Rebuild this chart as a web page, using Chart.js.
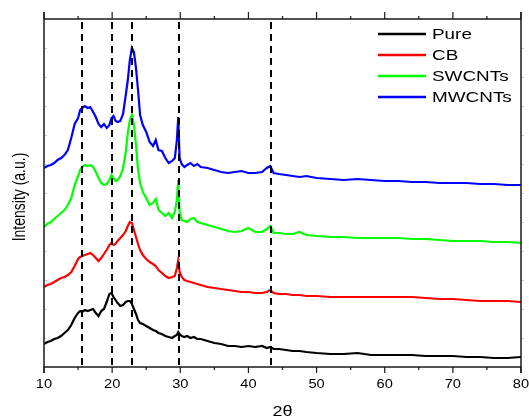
<!DOCTYPE html>
<html>
<head>
<meta charset="utf-8">
<script src="https://cdn.jsdelivr.net/npm/chart.js@4.4.0/dist/chart.umd.min.js"></script>
<style>
html,body{margin:0;padding:0;background:#fff;}
canvas{display:block;}
</style>
</head>
<body>
<canvas id="c" width="529" height="419"></canvas>
<script>
// 2-theta sampling positions
const twoTheta = [10,10.5,11,11.5,12,12.5,13,13.5,14,14.5,15,15.3,15.6,16,16.4,16.8,17.2,17.6,18,18.4,18.8,19.2,19.6,19.9,20.2,20.5,20.8,21.2,21.6,22,22.3,22.6,22.9,23.2,23.5,23.8,24.1,24.5,25,25.5,26,26.4,26.8,27.3,27.8,28.3,28.8,29.2,29.5,29.7,29.9,30.2,30.6,31,31.5,32,32.5,33,34,35,36,37,38,39,40,41,42,42.7,43.2,43.7,44.5,45.5,46.5,47.5,48.5,50,52,54,56,58,60,62,64,66,68,70,72,74,76,78,80];

// intensities (arbitrary units, stacked offsets as in the figure)
const pure = [23,25,26,28,29,31,34,37,42,49,54,56,55,57,56,57,58,54,51,56,58,65,73,74,70,67,64,61,62,65,66,66,63,58,53,47,44,43,41,39,37,36,34,33,31,30,29,31,32,35,33,31,30,31,29,30,28,28,26,24,23,21,21,20,21,20,21,19,20,18,18,17,16,16,15,14,13,13,14,12,12,12,12,11,11,11,10,10,9,9,10];
const cb = [80,82,83,85,87,89,90,92,95,101,108,110,111,112,113,114,112,109,106,109,113,117,122,124,122,123,126,129,132,136,141,145,144,137,130,123,117,112,108,105,103,101,97,94,91,89,90,91,99,107,95,90,87,86,85,84,83,82,80,79,78,77,76,75,75,74,74,75,77,74,73,73,72,72,71,71,70,70,70,70,70,70,70,69,68,68,67,66,66,66,65];
const swcnts = [140,143,145,148,151,154,157,162,169,182,191,197,200,202,201,202,200,195,189,184,182,183,187,192,189,186,187,191,199,215,234,247,252,242,222,197,184,175,169,162,164,168,157,154,151,154,149,155,167,187,155,147,146,145,148,149,145,144,142,140,138,136,135,136,139,135,135,138,141,134,134,133,133,135,132,131,130,130,129,129,129,129,128,128,127,126,126,126,125,125,124];
const mwcnts = [199,201,202,204,207,209,212,217,229,243,249,257,259,261,259,260,255,250,243,240,243,239,242,249,251,246,245,246,253,272,287,307,319,315,299,277,252,242,235,225,221,227,217,216,209,204,206,209,227,250,209,203,200,202,204,201,203,200,199,197,195,194,195,196,194,194,195,199,201,194,193,192,191,190,191,189,188,187,188,187,186,186,185,185,184,184,184,183,183,182,182];

const seriesNames = ['Pure','CB','SWCNTs','MWCNTs'];
const seriesColors = ['#000000','#ff0000','#00ff00','#0000ff'];
const seriesValues = [pure, cb, swcnts, mwcnts];

// reference positions (dashed markers)
const refLines = [15.6, 20.0, 22.9, 29.85, 43.25];

const xMajorTicks = [10,20,30,40,50,60,70,80];
const xMinorTicks = [15,25,35,45,55,65,75];
const yTickStep = 29;

const FONT = "'Liberation Sans', Arial, sans-serif";

function stretchedText(ctx, text, x, y, sx, align){
  ctx.save();
  ctx.translate(x, y);
  ctx.scale(sx, 1);
  ctx.textAlign = align;
  ctx.fillText(text, 0, 0);
  ctx.restore();
}

const decor = {
  id:'decor',
  afterDatasetsDraw(chart){
    const ctx = chart.ctx;
    const a = chart.chartArea;
    const xs = chart.scales.x, ys = chart.scales.y;
    ctx.save();
    // dashed reference lines
    ctx.strokeStyle = '#000';
    ctx.lineWidth = 2;
    ctx.setLineDash([7,5]);
    refLines.forEach(v=>{
      const px = Math.round(xs.getPixelForValue(v));
      ctx.beginPath();
      ctx.moveTo(px, a.top+3);
      ctx.lineTo(px, a.bottom);
      ctx.stroke();
    });
    ctx.setLineDash([]);
    // frame
    ctx.strokeStyle = '#1a1a1a';
    ctx.lineWidth = 1.5;
    ctx.beginPath();
    ctx.moveTo(a.left, a.top-7); ctx.lineTo(a.left, a.bottom+6);
    ctx.moveTo(a.right, a.top-7); ctx.lineTo(a.right, a.bottom+6);
    ctx.moveTo(a.left, a.top); ctx.lineTo(a.right, a.top);
    ctx.moveTo(a.left, a.bottom); ctx.lineTo(a.right, a.bottom);
    ctx.stroke();
    // x ticks (outward)
    ctx.lineWidth = 1.2;
    ctx.beginPath();
    xMajorTicks.forEach(v=>{
      const px = xs.getPixelForValue(v);
      ctx.moveTo(px, a.bottom); ctx.lineTo(px, a.bottom+6);
      ctx.moveTo(px, a.top); ctx.lineTo(px, a.top-7);
    });
    xMinorTicks.forEach(v=>{
      const px = xs.getPixelForValue(v);
      ctx.moveTo(px, a.bottom); ctx.lineTo(px, a.bottom+3);
      ctx.moveTo(px, a.top); ctx.lineTo(px, a.top-3);
    });
    ctx.stroke();
    // faint y ticks
    ctx.strokeStyle = '#c8c8c8';
    ctx.lineWidth = 1;
    ctx.beginPath();
    for(let v=yTickStep; v<ys.max; v+=yTickStep){
      const py = Math.round(ys.getPixelForValue(v))+0.5;
      ctx.moveTo(a.left+1, py); ctx.lineTo(a.left+3, py);
      ctx.moveTo(a.right+1, py); ctx.lineTo(a.right+3, py);
    }
    ctx.stroke();
    // x tick labels
    ctx.fillStyle = '#000';
    ctx.textBaseline = 'middle';
    ctx.font = '12px ' + FONT;
    xMajorTicks.forEach(v=>{
      stretchedText(ctx, String(v), xs.getPixelForValue(v), 385, 1.22, 'center');
    });
    // legend
    ctx.font = '15px ' + FONT;
    seriesNames.forEach((n,i)=>{
      const y = 34 + i*21;
      ctx.strokeStyle = seriesColors[i];
      ctx.lineWidth = 2.5;
      ctx.beginPath(); ctx.moveTo(378,y); ctx.lineTo(426,y); ctx.stroke();
      ctx.fillStyle = '#000';
      stretchedText(ctx, n, 432, y+1, 1.26, 'left');
    });
    // axis titles
    ctx.fillStyle = '#000';
    ctx.font = '15px ' + FONT;
    stretchedText(ctx, '2θ', (a.left+a.right)/2, 412, 1.2, 'center');
    ctx.save();
    ctx.translate(20, 197);
    ctx.rotate(-Math.PI/2);
    ctx.scale(1, 1.25);
    ctx.font = '14px ' + FONT;
    ctx.textAlign = 'center';
    ctx.fillText('Intensity (a.u.)', 0, 0);
    ctx.restore();
    ctx.restore();
  }
};

new Chart(document.getElementById('c'), {
  type:'line',
  data:{
    datasets: seriesNames.map((n,i)=>({
      label:n,
      data: twoTheta.map((x,j)=>({x:x, y:seriesValues[i][j]})),
      borderColor: seriesColors[i],
      borderWidth: 2.2,
      pointRadius: 0,
      tension: 0,
      fill:false
    }))
  },
  options:{
    responsive:false,
    animation:false,
    events:[],
    layout:{padding:{left:0,right:8,top:19,bottom:0}},
    plugins:{legend:{display:false}, tooltip:{enabled:false}},
    scales:{
      x:{
        type:'linear', min:10, max:80,
        afterBuildTicks(s){ s.ticks = xMajorTicks.map(v=>({value:v})); },
        ticks:{display:false},
        grid:{display:false, drawTicks:false},
        border:{display:false},
        afterFit(s){ s.height = 52; s.paddingLeft = 0; s.paddingRight = 0; }
      },
      y:{
        type:'linear', min:0, max:348,
        ticks:{display:false, stepSize:yTickStep},
        grid:{display:false, drawTicks:false},
        border:{display:false},
        afterFit(s){ s.width = 44; s.paddingTop = 0; s.paddingBottom = 0; }
      }
    }
  },
  plugins:[decor]
});
</script>
</body>
</html>
